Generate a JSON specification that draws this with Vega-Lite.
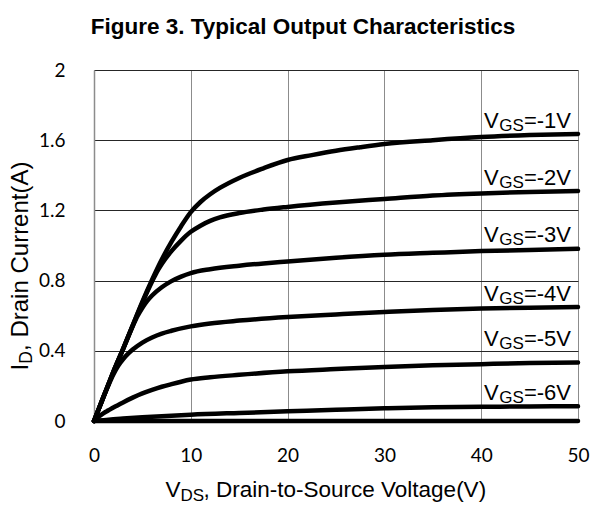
{
  "$schema": "https://vega.github.io/schema/vega-lite/v6.json",
  "width": 484,
  "height": 351,
  "autosize": "none",
  "padding": {"left": 94, "top": 70, "right": 17, "bottom": 84},
  "background": "white",
  "title": {
    "text": "Figure 3. Typical Output Characteristics",
    "font": "Liberation Sans",
    "fontSize": 22.5,
    "fontWeight": "bold",
    "color": "black",
    "anchor": "middle",
    "baseline": "alphabetic",
    "dx": -33,
    "offset": 5
  },
  "config": {"view": {"stroke": null}},
  "datasets": {
    "curves": [
      {"s": "-1", "x": 0, "y": 0}, {"s": "-1", "x": 0.5, "y": 0.07}, {"s": "-1", "x": 1, "y": 0.14}, {"s": "-1", "x": 1.5, "y": 0.21}, {"s": "-1", "x": 2, "y": 0.28}, {"s": "-1", "x": 2.5, "y": 0.345}, {"s": "-1", "x": 3, "y": 0.41}, {"s": "-1", "x": 4, "y": 0.545}, {"s": "-1", "x": 5, "y": 0.68}, {"s": "-1", "x": 6, "y": 0.805}, {"s": "-1", "x": 7, "y": 0.92}, {"s": "-1", "x": 8, "y": 1.02}, {"s": "-1", "x": 9, "y": 1.11}, {"s": "-1", "x": 10, "y": 1.19}, {"s": "-1", "x": 11, "y": 1.248}, {"s": "-1", "x": 12, "y": 1.292}, {"s": "-1", "x": 13, "y": 1.328}, {"s": "-1", "x": 15, "y": 1.385}, {"s": "-1", "x": 17.5, "y": 1.44}, {"s": "-1", "x": 20, "y": 1.487}, {"s": "-1", "x": 22.5, "y": 1.515}, {"s": "-1", "x": 25, "y": 1.54}, {"s": "-1", "x": 27.5, "y": 1.56}, {"s": "-1", "x": 30, "y": 1.578}, {"s": "-1", "x": 35, "y": 1.6}, {"s": "-1", "x": 40, "y": 1.618}, {"s": "-1", "x": 45, "y": 1.629}, {"s": "-1", "x": 50, "y": 1.636},

      {"s": "-2", "x": 0, "y": 0}, {"s": "-2", "x": 0.5, "y": 0.07}, {"s": "-2", "x": 1, "y": 0.14}, {"s": "-2", "x": 1.5, "y": 0.21}, {"s": "-2", "x": 2, "y": 0.28}, {"s": "-2", "x": 2.5, "y": 0.345}, {"s": "-2", "x": 3, "y": 0.41}, {"s": "-2", "x": 4, "y": 0.545}, {"s": "-2", "x": 5, "y": 0.675}, {"s": "-2", "x": 6, "y": 0.795}, {"s": "-2", "x": 6.5, "y": 0.85}, {"s": "-2", "x": 7, "y": 0.895}, {"s": "-2", "x": 8, "y": 0.968}, {"s": "-2", "x": 9, "y": 1.028}, {"s": "-2", "x": 10, "y": 1.078}, {"s": "-2", "x": 11, "y": 1.113}, {"s": "-2", "x": 12, "y": 1.14}, {"s": "-2", "x": 13, "y": 1.16}, {"s": "-2", "x": 15, "y": 1.185}, {"s": "-2", "x": 17.5, "y": 1.205}, {"s": "-2", "x": 20, "y": 1.22}, {"s": "-2", "x": 25, "y": 1.245}, {"s": "-2", "x": 30, "y": 1.265}, {"s": "-2", "x": 35, "y": 1.285}, {"s": "-2", "x": 40, "y": 1.297}, {"s": "-2", "x": 45, "y": 1.305}, {"s": "-2", "x": 50, "y": 1.311},

      {"s": "-3", "x": 0, "y": 0}, {"s": "-3", "x": 0.5, "y": 0.07}, {"s": "-3", "x": 1, "y": 0.14}, {"s": "-3", "x": 1.5, "y": 0.21}, {"s": "-3", "x": 2, "y": 0.28}, {"s": "-3", "x": 2.5, "y": 0.345}, {"s": "-3", "x": 3, "y": 0.41}, {"s": "-3", "x": 4, "y": 0.54}, {"s": "-3", "x": 4.5, "y": 0.598}, {"s": "-3", "x": 5, "y": 0.645}, {"s": "-3", "x": 5.5, "y": 0.684}, {"s": "-3", "x": 6, "y": 0.715}, {"s": "-3", "x": 7, "y": 0.762}, {"s": "-3", "x": 8, "y": 0.797}, {"s": "-3", "x": 9, "y": 0.823}, {"s": "-3", "x": 10, "y": 0.843}, {"s": "-3", "x": 12, "y": 0.865}, {"s": "-3", "x": 15, "y": 0.885}, {"s": "-3", "x": 17.5, "y": 0.898}, {"s": "-3", "x": 20, "y": 0.909}, {"s": "-3", "x": 25, "y": 0.93}, {"s": "-3", "x": 30, "y": 0.947}, {"s": "-3", "x": 35, "y": 0.958}, {"s": "-3", "x": 40, "y": 0.968}, {"s": "-3", "x": 45, "y": 0.975}, {"s": "-3", "x": 50, "y": 0.981},

      {"s": "-4", "x": 0, "y": 0}, {"s": "-4", "x": 0.5, "y": 0.07}, {"s": "-4", "x": 1, "y": 0.14}, {"s": "-4", "x": 1.5, "y": 0.205}, {"s": "-4", "x": 2, "y": 0.265}, {"s": "-4", "x": 2.5, "y": 0.315}, {"s": "-4", "x": 3, "y": 0.352}, {"s": "-4", "x": 3.5, "y": 0.382}, {"s": "-4", "x": 4, "y": 0.407}, {"s": "-4", "x": 5, "y": 0.447}, {"s": "-4", "x": 6, "y": 0.476}, {"s": "-4", "x": 7, "y": 0.498}, {"s": "-4", "x": 8, "y": 0.514}, {"s": "-4", "x": 10, "y": 0.539}, {"s": "-4", "x": 12, "y": 0.556}, {"s": "-4", "x": 15, "y": 0.572}, {"s": "-4", "x": 20, "y": 0.592}, {"s": "-4", "x": 25, "y": 0.607}, {"s": "-4", "x": 30, "y": 0.621}, {"s": "-4", "x": 35, "y": 0.633}, {"s": "-4", "x": 40, "y": 0.641}, {"s": "-4", "x": 45, "y": 0.646}, {"s": "-4", "x": 50, "y": 0.649},

      {"s": "-5", "x": 0, "y": 0}, {"s": "-5", "x": 0.5, "y": 0.025}, {"s": "-5", "x": 1, "y": 0.045}, {"s": "-5", "x": 1.5, "y": 0.061}, {"s": "-5", "x": 2, "y": 0.077}, {"s": "-5", "x": 3, "y": 0.106}, {"s": "-5", "x": 4, "y": 0.133}, {"s": "-5", "x": 5, "y": 0.157}, {"s": "-5", "x": 6, "y": 0.177}, {"s": "-5", "x": 7, "y": 0.195}, {"s": "-5", "x": 8, "y": 0.21}, {"s": "-5", "x": 9, "y": 0.224}, {"s": "-5", "x": 10, "y": 0.236}, {"s": "-5", "x": 12, "y": 0.249}, {"s": "-5", "x": 15, "y": 0.263}, {"s": "-5", "x": 20, "y": 0.283}, {"s": "-5", "x": 25, "y": 0.296}, {"s": "-5", "x": 30, "y": 0.308}, {"s": "-5", "x": 35, "y": 0.317}, {"s": "-5", "x": 40, "y": 0.324}, {"s": "-5", "x": 45, "y": 0.33}, {"s": "-5", "x": 50, "y": 0.334},

      {"s": "-6", "x": 0, "y": 0}, {"s": "-6", "x": 1, "y": 0.005}, {"s": "-6", "x": 2, "y": 0.01}, {"s": "-6", "x": 3, "y": 0.014}, {"s": "-6", "x": 5, "y": 0.021}, {"s": "-6", "x": 7.5, "y": 0.029}, {"s": "-6", "x": 10, "y": 0.036}, {"s": "-6", "x": 15, "y": 0.046}, {"s": "-6", "x": 20, "y": 0.055}, {"s": "-6", "x": 25, "y": 0.064}, {"s": "-6", "x": 30, "y": 0.072}, {"s": "-6", "x": 35, "y": 0.078}, {"s": "-6", "x": 40, "y": 0.081}, {"s": "-6", "x": 45, "y": 0.083}, {"s": "-6", "x": 50, "y": 0.084},

      {"s": "-7", "x": 0, "y": 0}, {"s": "-7", "x": 50, "y": 0}
    ],
    "labels": [
      {"x": 40.3, "y": 1.669, "t": "=-1V"},
      {"x": 40.3, "y": 1.345, "t": "=-2V"},
      {"x": 40.3, "y": 1.022, "t": "=-3V"},
      {"x": 40.3, "y": 0.681, "t": "=-4V"},
      {"x": 40.3, "y": 0.429, "t": "=-5V"},
      {"x": 40.3, "y": 0.122, "t": "=-6V"}
    ]
  },
  "layer": [
    {
      "data": {"name": "curves"},
      "mark": {"type": "line", "color": "black", "strokeWidth": 4.5, "interpolate": "monotone", "strokeCap": "round"},
      "encoding": {
        "x": {"field": "x", "type": "quantitative", "scale": {"domain": [0, 50], "nice": false},
          "axis": {"orient": "bottom", "values": [0, 10, 20, 30, 40, 50], "title": null, "grid": true, "gridColor": "#8c8c8c", "gridWidth": 1, "gridOpacity": 1, "ticks": false, "domain": false,
            "labelFont": "Lato", "labelFontSize": 19, "labelColor": "black", "labelBaseline": "alphabetic", "labelPadding": 40, "labelFlush": false}},
        "y": {"field": "y", "type": "quantitative", "scale": {"domain": [0, 2], "nice": false},
          "axis": {"orient": "left", "values": [0, 0.4, 0.8, 1.2, 1.6, 2], "format": "~g", "title": null, "grid": true, "gridColor": "#262626", "gridWidth": 1, "gridOpacity": 1, "ticks": false, "domain": true, "domainColor": "#8c8c8c", "domainWidth": 1.5,
            "labelFont": "Lato", "labelFontSize": 19, "labelColor": "black", "labelPadding": 29, "labelFlush": false}},
        "detail": {"field": "s", "type": "nominal"}
      }
    },
    {
      "data": {"name": "labels"},
      "mark": {"type": "text", "text": "V", "font": "Liberation Sans", "fontSize": 22, "align": "left", "baseline": "alphabetic", "color": "black"},
      "encoding": {
        "x": {"field": "x", "type": "quantitative", "scale": {"domain": [0, 50], "nice": false},
          "axis": {"orient": "bottom", "labels": false, "ticks": false, "domain": false, "grid": false, "title": "V",
            "titleFont": "Liberation Sans", "titleFontSize": 22.5, "titleFontWeight": "normal", "titleColor": "black", "titleX": 71, "titleY": 75.3, "titleAlign": "left", "titleBaseline": "alphabetic", "titleAngle": 0}},
        "y": {"field": "y", "type": "quantitative", "scale": {"domain": [0, 2], "nice": false},
          "axis": {"orient": "left", "labels": false, "ticks": false, "domain": false, "grid": false, "title": "I",
            "titleFont": "Liberation Sans", "titleFontSize": 24, "titleFontWeight": "normal", "titleColor": "black", "titleX": -67, "titleY": 300, "titleAlign": "left", "titleBaseline": "alphabetic", "titleAngle": 270}}
      }
    },
    {
      "data": {"name": "labels"},
      "mark": {"type": "text", "text": "GS", "font": "Liberation Sans", "fontSize": 17, "align": "left", "baseline": "alphabetic", "color": "black", "dx": 15.2, "dy": 3},
      "encoding": {
        "x": {"field": "x", "type": "quantitative", "scale": {"domain": [0, 50], "nice": false},
          "axis": {"orient": "bottom", "labels": false, "ticks": false, "domain": false, "grid": false, "title": "DS",
            "titleFont": "Liberation Sans", "titleFontSize": 17, "titleFontWeight": "normal", "titleColor": "black", "titleX": 86, "titleY": 79.6, "titleAlign": "left", "titleBaseline": "alphabetic", "titleAngle": 0}},
        "y": {"field": "y", "type": "quantitative", "scale": {"domain": [0, 2], "nice": false},
          "axis": {"orient": "left", "labels": false, "ticks": false, "domain": false, "grid": false, "title": "D",
            "titleFont": "Liberation Sans", "titleFontSize": 17.5, "titleFontWeight": "normal", "titleColor": "black", "titleX": -63, "titleY": 293.2, "titleAlign": "left", "titleBaseline": "alphabetic", "titleAngle": 270}}
      }
    },
    {
      "data": {"name": "labels"},
      "mark": {"type": "text", "font": "Liberation Sans", "fontSize": 22, "align": "left", "baseline": "alphabetic", "color": "black", "dx": 39.8},
      "encoding": {
        "text": {"field": "t"},
        "x": {"field": "x", "type": "quantitative", "scale": {"domain": [0, 50], "nice": false},
          "axis": {"orient": "bottom", "labels": false, "ticks": false, "domain": false, "grid": false, "title": ", Drain-to-Source Voltage(V)",
            "titleFont": "Liberation Sans", "titleFontSize": 22.5, "titleFontWeight": "normal", "titleColor": "black", "titleX": 109, "titleY": 75.3, "titleAlign": "left", "titleBaseline": "alphabetic", "titleAngle": 0}},
        "y": {"field": "y", "type": "quantitative", "scale": {"domain": [0, 2], "nice": false},
          "axis": {"orient": "left", "labels": false, "ticks": false, "domain": false, "grid": false, "title": ", Drain Current(A)",
            "titleFont": "Liberation Sans", "titleFontSize": 24, "titleFontWeight": "normal", "titleColor": "black", "titleX": -67, "titleY": 280.4, "titleAlign": "left", "titleBaseline": "alphabetic", "titleAngle": 270}}
      }
    }
  ],
  "resolve": {"axis": {"x": "independent", "y": "independent"}}
}
